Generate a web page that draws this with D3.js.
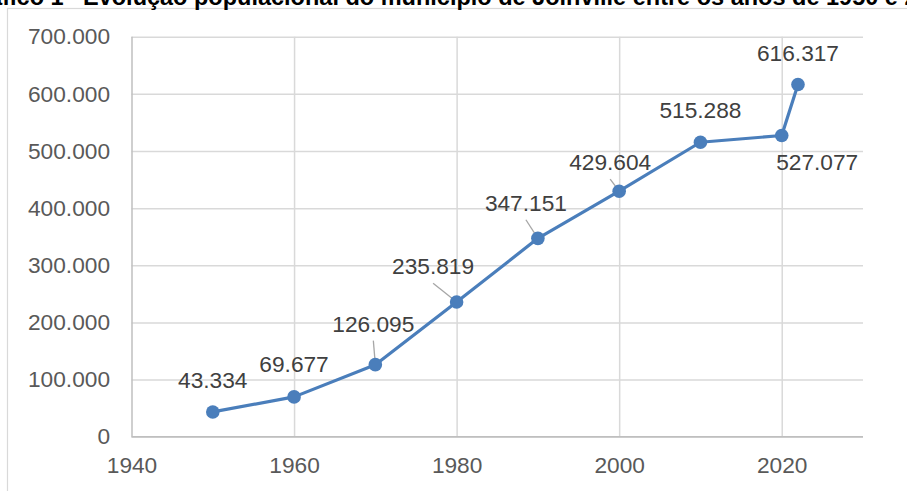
<!DOCTYPE html>
<html>
<head>
<meta charset="utf-8">
<script src="https://cdn.jsdelivr.net/npm/d3@7"></script>
<style>
  html, body { margin: 0; padding: 0; background: #fff; }
  svg { display: block; }
</style>
</head>
<body>
<svg id="chart" width="907" height="491"></svg>
<script>
// ---- data ----
const years = [1950, 1960, 1970, 1980, 1990, 2000, 2010, 2020, 2022];
const population = [43334, 69677, 126095, 235819, 347151, 429604, 515288, 527077, 616317];
const xTicks = [1940, 1960, 1980, 2000, 2020];
const yTicks = [0, 100000, 200000, 300000, 400000, 500000, 600000, 700000];
const titleLead = "Gráfico 1 -";
const titleText = "Evolução populacional do município de Joinville entre os anos de 1950 e 2022";

// ---- layout (label offsets in px, relative to the point) ----
const labelOffsets = [
  [0, -24], [0, -24.5], [-2, -33], [-23.5, -27.7], [-12, -27.6],
  [-9, -21], [0, -24], [35.5, 34.5], [0, -24]
];
const leader = [false, false, true, true, true, true, false, false, false];

const svg = d3.select("#chart");
const W = 907, H = 491;
const plot = { left: 131.5, right: 863, top: 36.7, bottom: 436.7 };

const loc = d3.formatLocale({ decimal: ",", thousands: ".", grouping: [3], currency: ["R$", ""] });
const fmt = loc.format(",d");

const x = d3.scaleLinear().domain([1940, 2030]).range([plot.left, plot.right]);
const y = d3.scaleLinear().domain([0, 700000]).range([plot.bottom, plot.top]);

// outer chart border
svg.append("rect")
  .attr("x", 7.5).attr("y", 8.5)
  .attr("width", W + 20).attr("height", H + 20)
  .attr("fill", "#fff").attr("stroke", "#d9d9d9").attr("stroke-width", 1.2);

// title (clipped at the top, as in the reference)
const title = svg.append("text")
  .attr("y", 4.5)
  .attr("font-family", "Liberation Sans, Arial, sans-serif")
  .attr("font-weight", "bold")
  .attr("font-size", 23.5)
  .attr("fill", "#000");
title.append("tspan").attr("x", 78).attr("text-anchor", "end").text(titleLead);
title.append("tspan").attr("x", 83).attr("text-anchor", "start").text(titleText);

// horizontal gridlines
svg.append("g")
  .attr("transform", `translate(${plot.left},0)`)
  .call(d3.axisLeft(y).tickValues(yTicks).tickSize(-(plot.right - plot.left)).tickFormat(""))
  .call(g => g.select(".domain").remove())
  .call(g => g.selectAll(".tick line").attr("stroke", "#d9d9d9").attr("stroke-width", 1.5));

// vertical gridlines
svg.append("g")
  .attr("transform", `translate(0,${plot.bottom})`)
  .call(d3.axisBottom(x).tickValues(xTicks).tickSize(-(plot.bottom - plot.top)).tickFormat(""))
  .call(g => g.select(".domain").remove())
  .call(g => g.selectAll(".tick line").attr("stroke", "#d9d9d9").attr("stroke-width", 1.5))
  .call(g => g.selectAll(".tick").filter(d => d === 1940).select("line").attr("stroke", "#bfbfbf"));

// x axis line
svg.append("line")
  .attr("x1", plot.left).attr("x2", plot.right)
  .attr("y1", plot.bottom).attr("y2", plot.bottom)
  .attr("stroke", "#bfbfbf").attr("stroke-width", 1.5);

// y tick labels
const yAxis = svg.append("g")
  .attr("transform", `translate(110,0)`)
  .call(d3.axisLeft(y).tickValues(yTicks).tickSize(0).tickPadding(0).tickFormat(d => fmt(d)));
yAxis.select(".domain").remove();
yAxis.selectAll("text")
  .attr("font-family", "Liberation Sans, Arial, sans-serif")
  .attr("font-size", 22.7).attr("fill", "#595959");

// x tick labels
const xAxis = svg.append("g")
  .attr("transform", `translate(0,${plot.bottom})`)
  .call(d3.axisBottom(x).tickValues(xTicks).tickSize(0).tickPadding(0).tickFormat(d3.format("d")));
xAxis.select(".domain").remove();
xAxis.selectAll("text")
  .attr("font-family", "Liberation Sans, Arial, sans-serif")
  .attr("font-size", 22.7).attr("fill", "#595959")
  .attr("dy", null).attr("y", 36);

const pts = years.map((yr, i) => ({ yr, v: population[i], i }));

// line
svg.append("path")
  .datum(pts)
  .attr("fill", "none")
  .attr("stroke", "#4a7ebb")
  .attr("stroke-width", 3.2)
  .attr("stroke-linejoin", "round")
  .attr("d", d3.line().x(d => x(d.yr)).y(d => y(d.v)));

// leader lines
svg.append("g").selectAll("line")
  .data(pts.filter(d => leader[d.i]))
  .join("line")
  .attr("x1", d => x(d.yr) + labelOffsets[d.i][0])
  .attr("y1", d => y(d.v) + labelOffsets[d.i][1] + 9)
  .attr("x2", d => x(d.yr))
  .attr("y2", d => y(d.v))
  .attr("stroke", "#a6a6a6").attr("stroke-width", 1.3);

// markers
svg.append("g").selectAll("circle")
  .data(pts)
  .join("circle")
  .attr("cx", d => x(d.yr)).attr("cy", d => y(d.v))
  .attr("r", 6.8)
  .attr("fill", "#4a7ebb");

// data labels
svg.append("g").selectAll("text")
  .data(pts)
  .join("text")
  .attr("x", d => x(d.yr) + labelOffsets[d.i][0])
  .attr("y", d => y(d.v) + labelOffsets[d.i][1])
  .attr("text-anchor", "middle")
  .attr("font-family", "Liberation Sans, Arial, sans-serif")
  .attr("font-size", 22.7).attr("fill", "#404040")
  .text(d => fmt(d.v));
</script>
</body>
</html>
